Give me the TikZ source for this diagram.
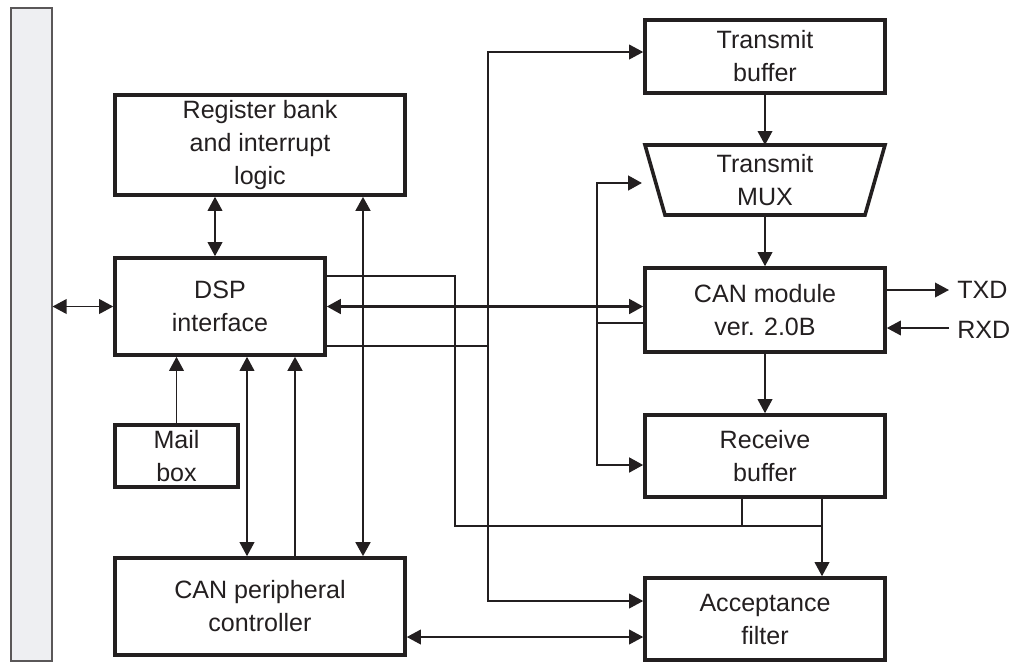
\documentclass[tikz,border=0pt]{standalone}
\usepackage{fontspec}
\setmainfont{Liberation Sans}
\usetikzlibrary{arrows.meta,calc}
\definecolor{ink}{RGB}{35,31,32}
\definecolor{barfill}{RGB}{238,239,242}
\begin{document}
\begin{tikzpicture}[x=0.75pt,y=-0.75pt,
 blk/.style={draw=ink, line width=2.7pt, align=center, font=\fontsize{18.8}{24.75}\selectfont, text=ink, inner sep=0pt},
 lbl/.style={font=\fontsize{18.8}{24.75}\selectfont, text=ink, inner sep=0pt, anchor=west},
 thinl/.style={line width=1.1pt, draw=ink},
 medl/.style={line width=1.9pt, draw=ink},
 tip/.style={-{Triangle[length=10.5pt,width=11pt]}},
 dtip/.style={{Triangle[length=10.5pt,width=11pt]}-{Triangle[length=10.5pt,width=11pt]}},
]
\useasboundingbox (0,0) rectangle (1014,665);
% left bus bar
\node[draw=ink!75, line width=0.8pt, fill=barfill, minimum width=30.75pt, minimum height=489.75pt, inner sep=0pt] (bar) at (31.5,334.5) {};
% blocks
\node[blk, minimum width=217.5pt, minimum height=75pt] (reg) at (260,145) {Register bank\\and interrupt\\logic};
\node[blk, minimum width=157.5pt, minimum height=72.75pt] (dsp) at (220,306.5) {DSP\\interface};
\node[blk, minimum width=92.25pt, minimum height=46.5pt] (mail) at (176.5,456) {Mail\\box};
\node[blk, minimum width=217.5pt, minimum height=72.75pt] (canp) at (260,606.5) {CAN peripheral\\controller};
\node[blk, minimum width=180pt, minimum height=54.75pt] (txbuf) at (765,56.5) {Transmit\\buffer};
\draw[draw=ink, line width=2.7pt, line join=miter] (645,145) -- (885,145) -- (865,215) -- (665,215) -- cycle;
\node[align=center, font=\fontsize{18.8}{24.75}\selectfont, text=ink, inner sep=0pt] (mux) at (765,180) {Transmit\\MUX};
\coordinate (muxtop) at (765,145);
\coordinate (muxbot) at (765,215);
\coordinate (muxin) at (642,183);
\node[blk, minimum width=180pt, minimum height=63pt] (canmod) at (765,310) {CAN module\\ver. 2.0B};
\node[blk, minimum width=180pt, minimum height=61.5pt] (rxbuf) at (765,456) {Receive\\buffer};
\node[blk, minimum width=180pt, minimum height=61.5pt] (accf) at (765,619) {Acceptance\\filter};
\node[lbl] (txd) at (957,290) {TXD};
\node[lbl] (rxd) at (957,330) {RXD};
% helper positions
\coordinate (xa) at (215,0);
\coordinate (xb) at (247,0);
\coordinate (xc) at (295,0);
\coordinate (xd) at (363,0);
\coordinate (xe) at (455,0);
\coordinate (xg) at (488,0);
\coordinate (xh) at (597,0);
\coordinate (xf) at (742,0);
\coordinate (xk) at (822,0);
\coordinate (ya) at (0,276);
\coordinate (yb) at (0,346);
\coordinate (yc) at (0,526);
\coordinate (yt) at (0,52);
\coordinate (yf) at (0,601);
\coordinate (yg) at (0,637);
\coordinate (yr) at (0,465);
\coordinate (ym) at (0,323);
\coordinate (yx) at (0,290);
\coordinate (yy) at (0,328);
% connectors
\draw[thinl,dtip] (bar.east |- dsp.west) -- (dsp.west);
\draw[thinl,dtip] (xa |- reg.south) -- (xa |- dsp.north);
\draw[medl,dtip] (xd |- reg.south) -- (xd |- canp.north);
\draw[thinl,tip] (mail.north) -- (mail.north |- dsp.south);
\draw[thinl,dtip] (xb |- dsp.south) -- (xb |- canp.north);
\draw[medl,tip] (xc |- canp.north) -- (xc |- dsp.south);
\draw[medl,dtip] (dsp.east) -- (dsp.east -| canmod.west);
% upper DSP line to acceptance filter
\draw[thinl] (ya -| dsp.east) -- (ya -| xe) -- (yc -| xe) -- (yc -| xk);
\draw[thinl,tip] (xk |- rxbuf.south) -- (xk |- accf.north);
\draw[medl] (xf |- rxbuf.south) -- (xf |- yc);
% lower DSP line to transmit buffer / acceptance filter
\draw[thinl] (yb -| dsp.east) -- (yb -| xg);
\draw[thinl,dtip] (yt -| txbuf.west) -- (yt -| xg) -- (yf -| xg) -- (yf -| accf.west);
% CAN module internal bus
\draw[medl,dtip] (muxin) -- (muxin -| xh) -- (yr -| xh) -- (yr -| rxbuf.west);
\draw[medl] (ym -| canmod.west) -- (ym -| xh);
% vertical chain
\draw[thinl,tip] (txbuf.south) -- (muxtop);
\draw[thinl,tip] (muxbot) -- (canmod.north);
\draw[thinl,tip] (canmod.south) -- (rxbuf.north);
% TXD / RXD
\draw[thinl,tip] (yx -| canmod.east) -- ([xshift=-6pt]txd.west);
\draw[thinl,tip] ([xshift=-6pt]rxd.west |- yy) -- (canmod.east |- yy);
% CAN peripheral <-> acceptance filter
\draw[thinl,dtip] (yg -| canp.east) -- (yg -| accf.west);
\end{tikzpicture}
\end{document}
